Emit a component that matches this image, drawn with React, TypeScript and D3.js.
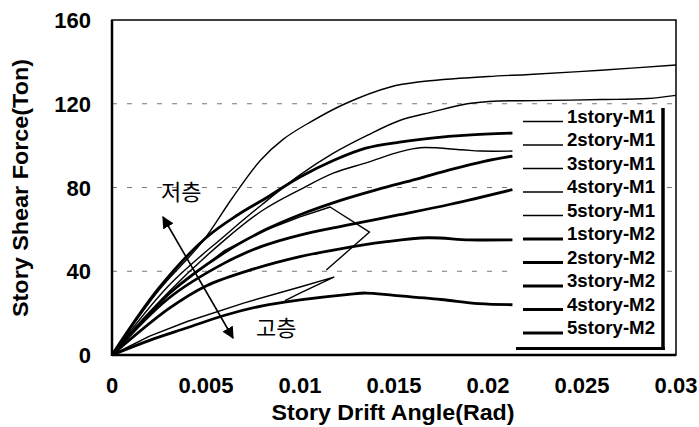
import React, { useEffect, useRef } from 'react';
import * as d3 from 'd3';

// series values: [drift angle (rad), shear force (ton)]
const story1M1 = [[0, 0], [0.0025, 31], [0.0048, 54], [0.0064, 75], [0.0079, 93], [0.0091, 103], [0.0105, 111], [0.0124, 120], [0.0148, 128], [0.0164, 130.5], [0.02, 133], [0.0222, 134], [0.026, 136], [0.03, 138.5]];
const story2M1 = [[0, 0], [0.003, 33], [0.006, 57], [0.008, 72], [0.01, 86], [0.0118, 96.5], [0.0136, 105], [0.0153, 112], [0.017, 116], [0.0189, 120], [0.0206, 121.3], [0.0225, 121.5], [0.026, 122], [0.0285, 122.5], [0.03, 124]];
const story3M1 = [[0, 0], [0.003, 30], [0.006, 55], [0.008, 69], [0.01, 79], [0.0118, 87], [0.0136, 92], [0.0153, 97], [0.0164, 99], [0.0186, 98], [0.0196, 97.4], [0.0213, 97.4]];
const story4M1 = [[0, 0], [0.003, 29], [0.006, 50], [0.008, 59], [0.01, 66], [0.0116, 70.7], [0.0137, 58.7], [0.0114, 40.6]];
const story5M1 = [[0, 0], [0.002, 9], [0.004, 16], [0.007, 24.8], [0.01, 32.5], [0.0118, 37.2], [0.01, 29.6], [0.0092, 26]];
const story1M2 = [[0, 0], [0.0025, 32], [0.005, 56], [0.0067, 67], [0.0082, 75], [0.01, 85], [0.0118, 93], [0.0135, 98.8], [0.0153, 101.7], [0.017, 103.6], [0.0189, 105], [0.0213, 106]];
const story2M2 = [[0, 0], [0.003, 29], [0.006, 49], [0.0082, 60], [0.01, 67], [0.0122, 74], [0.0141, 79], [0.0162, 84], [0.018, 88.5], [0.0198, 92.5], [0.0213, 95]];
const story3M2 = [[0, 0], [0.003, 27], [0.006, 44], [0.008, 52], [0.01, 57.3], [0.0125, 62], [0.0153, 67], [0.018, 72], [0.0213, 79]];
const story4M2 = [[0, 0], [0.003, 22], [0.005, 33], [0.0075, 41], [0.01, 47], [0.012, 50.5], [0.0145, 54], [0.0168, 56], [0.019, 55], [0.0213, 55]];
const story5M2 = [[0, 0], [0.002, 7], [0.004, 13], [0.006, 19], [0.008, 23.5], [0.01, 26.3], [0.0126, 29], [0.0135, 29.6], [0.015, 28.5], [0.0175, 26.5], [0.0195, 24.5], [0.0213, 24]];

const seriesNames = ['1story-M1', '2story-M1', '3story-M1', '4story-M1', '5story-M1', '1story-M2', '2story-M2', '3story-M2', '4story-M2', '5story-M2'];
const seriesData = [story1M1, story2M1, story3M1, story4M1, story5M1, story1M2, story2M2, story3M2, story4M2, story5M2];

const xTicks = [0, 0.005, 0.01, 0.015, 0.02, 0.025, 0.03];
const xTickLabels = ['0', '0.005', '0.01', '0.015', '0.02', '0.025', '0.03'];
const yTicks = [0, 40, 80, 120, 160];
const gridValues = [40, 80, 120];

const App = () => {
    const ref = useRef(null);

    useEffect(() => {
        const svg = d3.select(ref.current);
        svg.selectAll('*').remove();

        const [left, right, top, bottom] = [112, 676, 20, 355];
        const x = d3.scaleLinear().domain([0, 0.03]).range([left, right]);
        const y = d3.scaleLinear().domain([0, 160]).range([bottom, top]);
        const font = 'Arial, "Liberation Sans", sans-serif';

        // grid lines
        svg.append('g')
            .selectAll('line')
            .data(gridValues)
            .join('line')
            .attr('x1', left).attr('x2', right)
            .attr('y1', d => y(d)).attr('y2', d => y(d))
            .style('stroke', '#777')
            .style('stroke-width', 1)
            .style('stroke-dasharray', '5,10');

        // curves (smooth ones, and the unloading loops drawn with sharp corners)
        const smooth = d3.line()
            .x(d => x(d[0]))
            .y(d => y(d[1]))
            .curve(d3.curveCatmullRom.alpha(0.5));
        const sharp = d3.line()
            .x(d => x(d[0]))
            .y(d => y(d[1]));

        svg.append('g')
            .selectAll('path')
            .data(seriesData)
            .join('path')
            .attr('d', (d, i) => (i === 3 || i === 4 ? sharp(d) : smooth(d)))
            .style('fill', 'none')
            .style('stroke', '#000')
            .style('stroke-linejoin', 'round')
            .style('stroke-width', (d, i) => (i < 5 ? 1.4 : 2.8));

        // frame
        svg.append('rect')
            .attr('x', left).attr('y', top)
            .attr('width', right - left).attr('height', bottom - top)
            .style('fill', 'none')
            .style('stroke', '#000')
            .style('stroke-width', 1.5);
        svg.append('line')
            .attr('x1', left).attr('x2', left).attr('y1', top).attr('y2', bottom + 1)
            .style('stroke', '#000').style('stroke-width', 2.5);
        svg.append('line')
            .attr('x1', left).attr('x2', right).attr('y1', bottom).attr('y2', bottom)
            .style('stroke', '#000').style('stroke-width', 2.5);

        // tick labels
        svg.append('g')
            .selectAll('text')
            .data(yTicks)
            .join('text')
            .attr('x', 91)
            .attr('y', d => y(d) + 8)
            .attr('text-anchor', 'end')
            .style('font-family', font)
            .style('font-weight', 'bold')
            .style('font-size', '22px')
            .text(d => d);

        svg.append('g')
            .selectAll('text')
            .data(xTicks)
            .join('text')
            .attr('x', d => x(d))
            .attr('y', 393)
            .attr('text-anchor', 'middle')
            .style('font-family', font)
            .style('font-weight', 'bold')
            .style('font-size', '22px')
            .text((d, i) => xTickLabels[i]);

        // axis titles
        svg.append('text')
            .attr('x', 393)
            .attr('y', 420)
            .attr('text-anchor', 'middle')
            .attr('textLength', 243)
            .attr('lengthAdjust', 'spacingAndGlyphs')
            .style('font-family', font)
            .style('font-weight', 'bold')
            .style('font-size', '22px')
            .text('Story Drift Angle(Rad)');

        svg.append('text')
            .attr('transform', 'translate(28,188) rotate(-90)')
            .attr('text-anchor', 'middle')
            .attr('textLength', 258)
            .attr('lengthAdjust', 'spacingAndGlyphs')
            .style('font-family', font)
            .style('font-weight', 'bold')
            .style('font-size', '22px')
            .text('Story Shear Force(Ton)');

        // annotation arrow
        const defs = svg.append('defs');
        defs.append('marker')
            .attr('id', 'head')
            .attr('viewBox', '0 0 10 10')
            .attr('refX', 9).attr('refY', 5)
            .attr('markerWidth', 12).attr('markerHeight', 12)
            .attr('orient', 'auto-start-reverse')
            .attr('markerUnits', 'userSpaceOnUse')
            .append('path')
            .attr('d', 'M0,0 L10,5 L0,10 Z')
            .style('fill', '#000');

        svg.append('line')
            .attr('x1', 163).attr('y1', 217)
            .attr('x2', 233).attr('y2', 338)
            .style('stroke', '#000')
            .style('stroke-width', 1.6)
            .attr('marker-start', 'url(#head)')
            .attr('marker-end', 'url(#head)');

        const krFont = '"Noto Sans CJK KR", sans-serif';
        svg.append('text')
            .attr('x', 161).attr('y', 200)
            .style('font-family', krFont)
            .style('font-size', '22px')
            .text('저층');
        svg.append('text')
            .attr('x', 256).attr('y', 336)
            .style('font-family', krFont)
            .style('font-size', '22px')
            .text('고층');

        // legend
        const legend = svg.append('g');
        legend.append('rect')
            .attr('x', 515).attr('y', 106)
            .attr('width', 148).attr('height', 242)
            .style('fill', '#fff');
        legend.append('line')
            .attr('x1', 663).attr('x2', 663).attr('y1', 108).attr('y2', 350)
            .style('stroke', '#000').style('stroke-width', 3.5);
        legend.append('line')
            .attr('x1', 516).attr('x2', 665).attr('y1', 348.5).attr('y2', 348.5)
            .style('stroke', '#000').style('stroke-width', 3);

        const rows = legend.selectAll('g.row')
            .data(seriesNames)
            .join('g')
            .attr('class', 'row')
            .attr('transform', (d, i) => `translate(0, ${115.5 + i * 23.5})`);
        rows.append('line')
            .attr('x1', 523).attr('x2', 563)
            .attr('y1', 6).attr('y2', 6)
            .style('stroke', '#000')
            .style('stroke-width', (d, i) => (i < 5 ? 1.3 : 3));
        rows.append('text')
            .attr('x', 567)
            .attr('y', 7)
            .attr('textLength', 88)
            .attr('lengthAdjust', 'spacingAndGlyphs')
            .style('font-family', font)
            .style('font-weight', 'bold')
            .style('font-size', '19px')
            .text(d => d);
    }, []);

    return (
        <svg ref={ref} width={699} height={427}
            style={{ position: 'absolute', left: 0, top: 0, background: '#fff' }} />
    );
};

export default App;
